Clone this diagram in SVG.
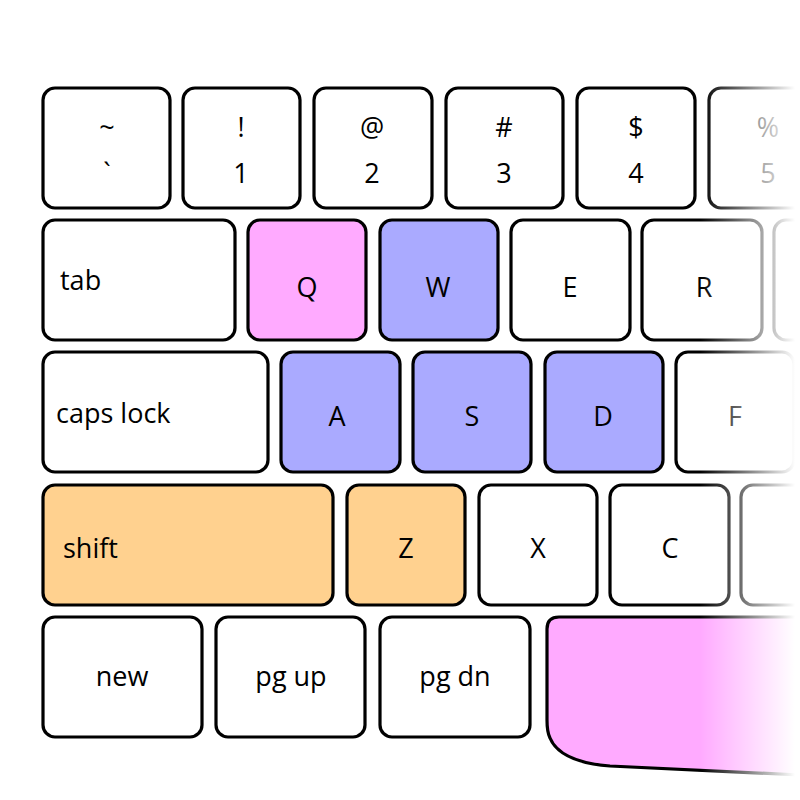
<svg xmlns="http://www.w3.org/2000/svg" width="800" height="800" viewBox="0 0 800 800">
<defs>
<linearGradient id="fade" gradientUnits="userSpaceOnUse" x1="700" y1="0" x2="795" y2="0">
<stop offset="0" stop-color="#fff" stop-opacity="0"/>
<stop offset="1" stop-color="#fff" stop-opacity="1"/>
</linearGradient>
</defs>
<style>
.k{fill:#fff;stroke:#000;stroke-width:3.2}
.pink{fill:#ffaaff}
.blue{fill:#aaaaff}
.orange{fill:#ffd18f}
text{font-family:"Open Sans","Noto Sans",sans-serif;font-size:27px;fill:#000}
.c{text-anchor:middle}
</style>
<rect width="800" height="800" fill="#fff"/>
<g id="row1">
<g id="key-tilde"><rect class="k" x="43" y="88" width="127" height="120" rx="12"/><text class="c" x="107" y="137">~</text><text class="c" x="107" y="183">`</text></g>
<g id="key-1"><rect class="k" x="183" y="88" width="117" height="120" rx="12"/><text class="c" x="241" y="137">!</text><text class="c" x="241" y="183">1</text></g>
<g id="key-2"><rect class="k" x="314" y="88" width="118" height="120" rx="12"/><text class="c" x="372" y="137">@</text><text class="c" x="372" y="183">2</text></g>
<g id="key-3"><rect class="k" x="446" y="88" width="117" height="120" rx="12"/><text class="c" x="504" y="137">#</text><text class="c" x="504" y="183">3</text></g>
<g id="key-4"><rect class="k" x="577" y="88" width="118" height="120" rx="12"/><text class="c" x="636" y="137">$</text><text class="c" x="636" y="183">4</text></g>
<g id="key-5"><rect class="k" x="709" y="88" width="118" height="120" rx="12"/><text class="c" x="768" y="137">%</text><text class="c" x="768" y="183">5</text></g>
</g>
<g id="row2">
<g id="key-tab"><rect class="k" x="43" y="220" width="192" height="120" rx="12"/><text x="60" y="290">tab</text></g>
<g id="key-q"><rect class="k pink" x="248" y="220" width="118" height="120" rx="12"/><text class="c" x="307" y="297">Q</text></g>
<g id="key-w"><rect class="k blue" x="380" y="220" width="118" height="120" rx="12"/><text class="c" x="438" y="297">W</text></g>
<g id="key-e"><rect class="k" x="511" y="220" width="119" height="120" rx="12"/><text class="c" x="570" y="297">E</text></g>
<g id="key-r"><rect class="k" x="642" y="220" width="120" height="120" rx="12"/><text class="c" x="704" y="297">R</text></g>
<g id="key-t"><rect class="k" x="774" y="220" width="118" height="120" rx="12"/></g>
</g>
<g id="row3">
<g id="key-caps"><rect class="k" x="43" y="352" width="225" height="120" rx="12"/><text x="56" y="423">caps lock</text></g>
<g id="key-a"><rect class="k blue" x="281" y="352" width="119" height="120" rx="12"/><text class="c" x="337" y="426">A</text></g>
<g id="key-s"><rect class="k blue" x="413" y="352" width="118" height="120" rx="12"/><text class="c" x="472" y="426">S</text></g>
<g id="key-d"><rect class="k blue" x="545" y="352" width="118" height="120" rx="12"/><text class="c" x="603" y="426">D</text></g>
<g id="key-f"><rect class="k" x="676" y="352" width="118" height="120" rx="12"/><text class="c" x="735" y="426">F</text></g>
</g>
<g id="row4">
<g id="key-shift"><rect class="k orange" x="43" y="485" width="290" height="120" rx="12"/><text x="63" y="558">shift</text></g>
<g id="key-z"><rect class="k orange" x="347" y="485" width="118" height="120" rx="12"/><text class="c" x="406" y="558">Z</text></g>
<g id="key-x"><rect class="k" x="479" y="485" width="118" height="120" rx="12"/><text class="c" x="538" y="558">X</text></g>
<g id="key-c"><rect class="k" x="610" y="485" width="119" height="120" rx="12"/><text class="c" x="670" y="558">C</text></g>
<g id="key-v"><rect class="k" x="741" y="485" width="118" height="120" rx="12"/></g>
</g>
<g id="row5">
<g id="key-new"><rect class="k" x="43" y="617" width="159" height="120" rx="12"/><text class="c" x="122" y="686">new</text></g>
<g id="key-pgup"><rect class="k" x="216" y="617" width="149" height="120" rx="12"/><text class="c" x="291" y="686">pg up</text></g>
<g id="key-pgdn"><rect class="k" x="380" y="617" width="150" height="120" rx="12"/><text class="c" x="455" y="686">pg dn</text></g>
<g id="key-space"><path class="k pink" d="M559,617 L820,617 L820,776 L800,775 L610,766 Q560,762 550,738 Q547,732 547,720 L547,629 Q547,617 559,617 Z"/></g>
</g>
<rect x="700" y="0" width="100" height="800" fill="url(#fade)"/>
</svg>
